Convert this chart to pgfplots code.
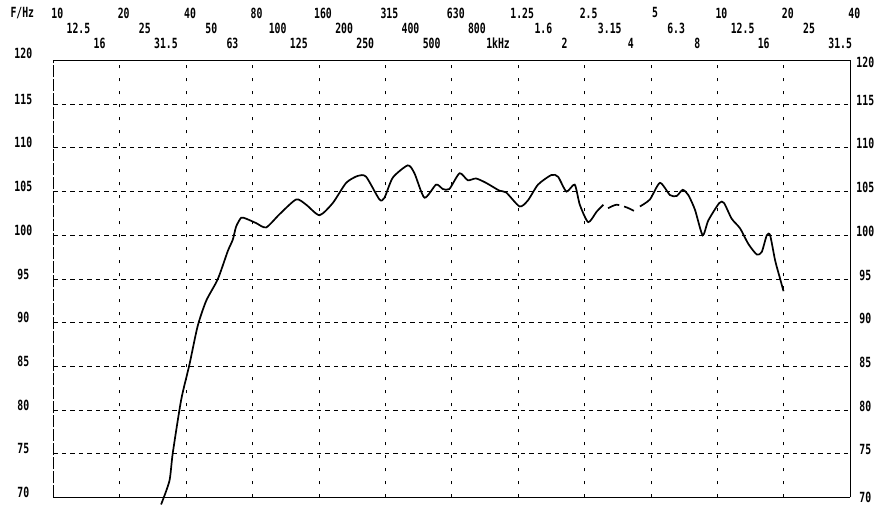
\documentclass[border=0pt]{standalone}
\usepackage{fontspec}
\setmainfont{DejaVu Sans Mono}[FakeStretch=0.7]
\usepackage{pgfplots}
\pgfplotsset{compat=1.18}
\newcommand\lf{\fontsize{14}{14}\selectfont\bfseries}
\begin{document}
\begin{tikzpicture}[x=1pt,y=1pt,
  r1/.style={font=\lf, yshift=47.5pt, xshift=4pt},
  r2/.style={font=\lf, yshift=32pt, xshift=3pt},
  r3/.style={font=\lf, yshift=17pt, xshift=2pt},
  yl/.style={font=\lf, xshift=-30pt, yshift=5pt},
  yr/.style={font=\lf, xshift=15pt, yshift=4pt}]
\useasboundingbox (-53.3,-7.5) rectangle (835.7,497.5);
\begin{axis}[
  scale only axis, width=797pt, height=437pt,
  xmode=log, log basis x=2, xmin=10, xmax=40960,
  ymin=70, ymax=120,
  xtick={20,40,80,160,320,640,1280,2560,5120,10240,20480},
  ytick={75,80,85,90,95,100,105,110,115},
  xticklabels={}, yticklabels={},
  tick style={draw=none}, major tick length=0pt,
  xmajorgrids, ymajorgrids,
  x grid style={black, line width=0.9pt, dash pattern=on 3.5pt off 9.5pt},
  y grid style={black, line width=0.9pt, dash pattern=on 4.5pt off 4pt},
  axis line style={draw=none},
  clip=false,
]
\draw[line width=0.9pt] (rel axis cs:0,1) -- (rel axis cs:1,1);
\draw[line width=0.9pt] (rel axis cs:0,0) -- (rel axis cs:1,0);
\draw[line width=1.6pt] (rel axis cs:1,0) -- (rel axis cs:1,1);
\draw[line width=1pt, dash pattern=on 12pt off 2pt] (rel axis cs:0,0) -- (rel axis cs:0,1);

\addplot[black, line width=1.7pt, smooth, tension=0.4] table {
30.8 69.2
33.6 71.9
34.8 75.1
38.0 81.2
41.4 85.2
45.1 89.6
49.3 92.5
55.7 95.0
61.8 98.2
65.1 99.5
67.4 101.0
71.0 102.0
74.8 101.9
83.0 101.4
92.2 100.9
105.9 102.4
126.1 104.1
140.0 103.5
160.9 102.3
184.9 103.7
212.5 106.0
240.0 106.8
261.7 106.7
300.8 104.1
317 104.3
345.8 106.6
404.3 108.0
433.4 107.1
481.1 104.3
543.4 105.8
582.6 105.3
624 105.3
694 107.1
756 106.3
824 106.5
915 106.0
1053 105.1
1129 104.9
1299 103.3
1417 104.0
1574 105.8
1810 106.9
1940 106.7
2117 105.0
2308 105.8
2434 103.5
2657 101.5
2901 102.7
3112 103.5
};
\addplot[black, line width=1.7pt, smooth, tension=0.4, dash pattern=on 12pt off 5pt] table {
3268 103.1
3570 103.5
3962 103.2
4281 102.8
};
\addplot[black, line width=1.7pt, smooth, tension=0.4] table {
4558 103.3
5059 104.1
5618 106.0
6239 104.6
6688 104.5
7124 105.2
7557 104.6
8102 102.9
8774 100.0
9305 101.7
10438 103.7
10960 103.7
11876 101.9
12957 100.8
14142 99.0
15436 97.8
16260 98.1
17130 100.0
17740 100.0
18700 97.1
19705 95.0
20400 93.6
};

\node[font=\lf, yshift=47.5pt, xshift=-31pt] at (axis cs:10,120) {F/Hz};
\node[r1] at (axis cs:10,120) {10};
\node[r1] at (axis cs:20,120) {20};
\node[r1] at (axis cs:40,120) {40};
\node[r1] at (axis cs:80,120) {80};
\node[r1] at (axis cs:160,120) {160};
\node[r1] at (axis cs:320,120) {315};
\node[r1] at (axis cs:640,120) {630};
\node[r1] at (axis cs:1280,120) {1.25};
\node[r1] at (axis cs:2560,120) {2.5};
\node[r1] at (axis cs:5120,120) {5};
\node[r1] at (axis cs:10240,120) {10};
\node[r1] at (axis cs:20480,120) {20};
\node[r1] at (axis cs:40960,120) {40};
\node[r2] at (axis cs:12.6,120) {12.5};
\node[r2] at (axis cs:25.2,120) {25};
\node[r2] at (axis cs:50.4,120) {50};
\node[r2] at (axis cs:100.8,120) {100};
\node[r2] at (axis cs:201.6,120) {200};
\node[r2] at (axis cs:403,120) {400};
\node[r2] at (axis cs:806,120) {800};
\node[r2] at (axis cs:1613,120) {1.6};
\node[r2] at (axis cs:3225,120) {3.15};
\node[r2] at (axis cs:6451,120) {6.3};
\node[r2] at (axis cs:12902,120) {12.5};
\node[r2] at (axis cs:25803,120) {25};
\node[r3] at (axis cs:15.87,120) {16};
\node[r3] at (axis cs:31.75,120) {31.5};
\node[r3] at (axis cs:63.5,120) {63};
\node[r3] at (axis cs:127,120) {125};
\node[r3] at (axis cs:254,120) {250};
\node[r3] at (axis cs:508,120) {500};
\node[r3] at (axis cs:1016,120) {1kHz};
\node[r3] at (axis cs:2032,120) {2};
\node[r3] at (axis cs:4064,120) {4};
\node[r3] at (axis cs:8128,120) {8};
\node[r3] at (axis cs:16255,120) {16};
\node[r3, xshift=10pt] at (axis cs:32510,120) {31.5};

\node[yl, yshift=2pt] at (axis cs:10,120) {120};
\node[yl] at (axis cs:10,115) {115};
\node[yl] at (axis cs:10,110) {110};
\node[yl] at (axis cs:10,105) {105};
\node[yl] at (axis cs:10,100) {100};
\node[yl] at (axis cs:10,95) {95};
\node[yl] at (axis cs:10,90) {90};
\node[yl] at (axis cs:10,85) {85};
\node[yl] at (axis cs:10,80) {80};
\node[yl] at (axis cs:10,75) {75};
\node[yl] at (axis cs:10,70) {70};
\node[yr, yshift=-6pt] at (axis cs:40960,120) {120};
\node[yr] at (axis cs:40960,115) {115};
\node[yr] at (axis cs:40960,110) {110};
\node[yr] at (axis cs:40960,105) {105};
\node[yr] at (axis cs:40960,100) {100};
\node[yr] at (axis cs:40960,95) {95};
\node[yr] at (axis cs:40960,90) {90};
\node[yr] at (axis cs:40960,85) {85};
\node[yr] at (axis cs:40960,80) {80};
\node[yr] at (axis cs:40960,75) {75};
\node[yr, yshift=-4pt] at (axis cs:40960,70) {70};
\end{axis}
\end{tikzpicture}
\end{document}
